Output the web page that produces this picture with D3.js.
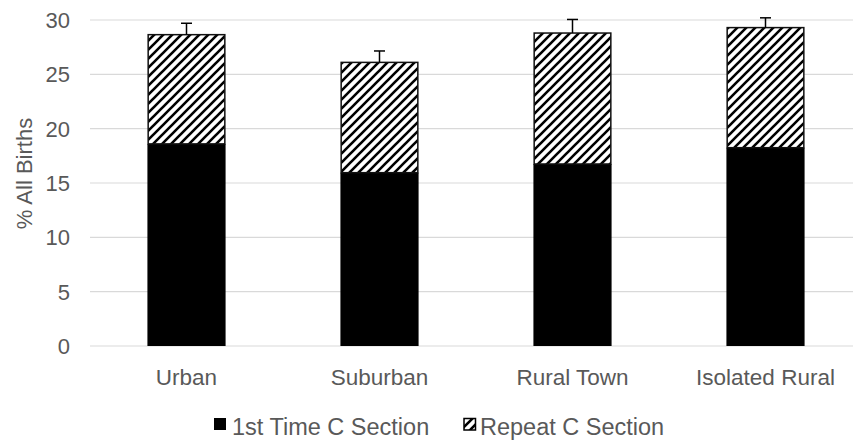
<!DOCTYPE html>
<html><head><meta charset="utf-8">
<script src="https://cdn.jsdelivr.net/npm/d3@7"></script>
<style>
body{margin:0;background:#fff;}
text{font-family:"Liberation Sans",Arial,sans-serif;fill:#595959;}
</style></head>
<body><svg id="chart" width="853" height="441"></svg>
<script>
const categories = ["Urban","Suburban","Rural Town","Isolated Rural"];
const firstTime = [18.6, 15.95, 16.75, 18.25];
const repeat = [10.05, 10.15, 12.05, 11.05];
const errorUp = [1.05, 1.05, 1.25, 0.9];
const yTicks = [0,5,10,15,20,25,30];
const seriesNames = ["1st Time C Section","Repeat C Section"];

const svg = d3.select("#chart");
const defs = svg.append("defs");
const pat = defs.append("pattern").attr("id","hatch").attr("patternUnits","userSpaceOnUse")
  .attr("width",9).attr("height",9);
pat.append("rect").attr("width",9).attr("height",9).attr("fill","#fff");
pat.append("path").attr("d","M-1,10 L10,-1 M-3,3 L3,-3 M6,12 L12,6")
  .attr("stroke","#000").attr("stroke-width",2.6);

const x = d3.scaleBand().domain(categories).range([90,862]).paddingInner(0.595).paddingOuter(0.2975);
const y = d3.scaleLinear().domain([0,30]).range([346,20]);

// gridlines
svg.append("g").selectAll("line").data(yTicks).join("line")
  .attr("x1",90).attr("x2",853).attr("y1",d=>y(d)).attr("y2",d=>y(d))
  .attr("stroke","#d9d9d9").attr("stroke-width",1.2);

// y tick labels
svg.append("g").selectAll("text").data(yTicks).join("text")
  .attr("x",70).attr("y",d=>y(d)+8).attr("text-anchor","end")
  .attr("font-size",22).text(d=>d);

svg.append("text").attr("transform","translate(32,173.5) rotate(-90)")
  .attr("text-anchor","middle").attr("font-size",22).text("% All Births");

// bars
const g = svg.append("g");
categories.forEach((c,i)=>{
  const x0 = x(c), w = x.bandwidth();
  g.append("rect").attr("x",x0).attr("width",w)
    .attr("y",y(firstTime[i])).attr("height",y(0)-y(firstTime[i]))
    .attr("fill","#000");
  const top = firstTime[i]+repeat[i];
  g.append("rect").attr("x",x0+0.75).attr("width",w-1.5)
    .attr("y",y(top)).attr("height",y(firstTime[i])-y(top))
    .attr("fill","url(#hatch)").attr("stroke","#111").attr("stroke-width",1.5);
  const cx = x0 + w/2;
  g.append("line").attr("x1",cx).attr("x2",cx).attr("y1",y(top)).attr("y2",y(top+errorUp[i]))
    .attr("stroke","#000").attr("stroke-width",1.5);
  g.append("line").attr("x1",cx-5.5).attr("x2",cx+5.5).attr("y1",y(top+errorUp[i])).attr("y2",y(top+errorUp[i]))
    .attr("stroke","#000").attr("stroke-width",1.5);
});

// x labels
svg.append("g").selectAll("text").data(categories).join("text")
  .attr("x",d=>x(d)+x.bandwidth()/2).attr("y",385).attr("text-anchor","middle")
  .attr("font-size",22.5).text(d=>d);

// legend
const leg = svg.append("g");
leg.append("rect").attr("x",214).attr("y",418).attr("width",12).attr("height",12).attr("fill","#000");
leg.append("text").attr("x",232).attr("y",434.5).attr("font-size",23.5).text(seriesNames[0]);
leg.append("rect").attr("x",464).attr("y",418.5).attr("width",11.5).attr("height",11.5)
  .attr("fill","url(#hatch)").attr("stroke","#000").attr("stroke-width",1.5);
leg.append("text").attr("x",480).attr("y",434.5).attr("font-size",23.5).text(seriesNames[1]);
</script></body></html>
